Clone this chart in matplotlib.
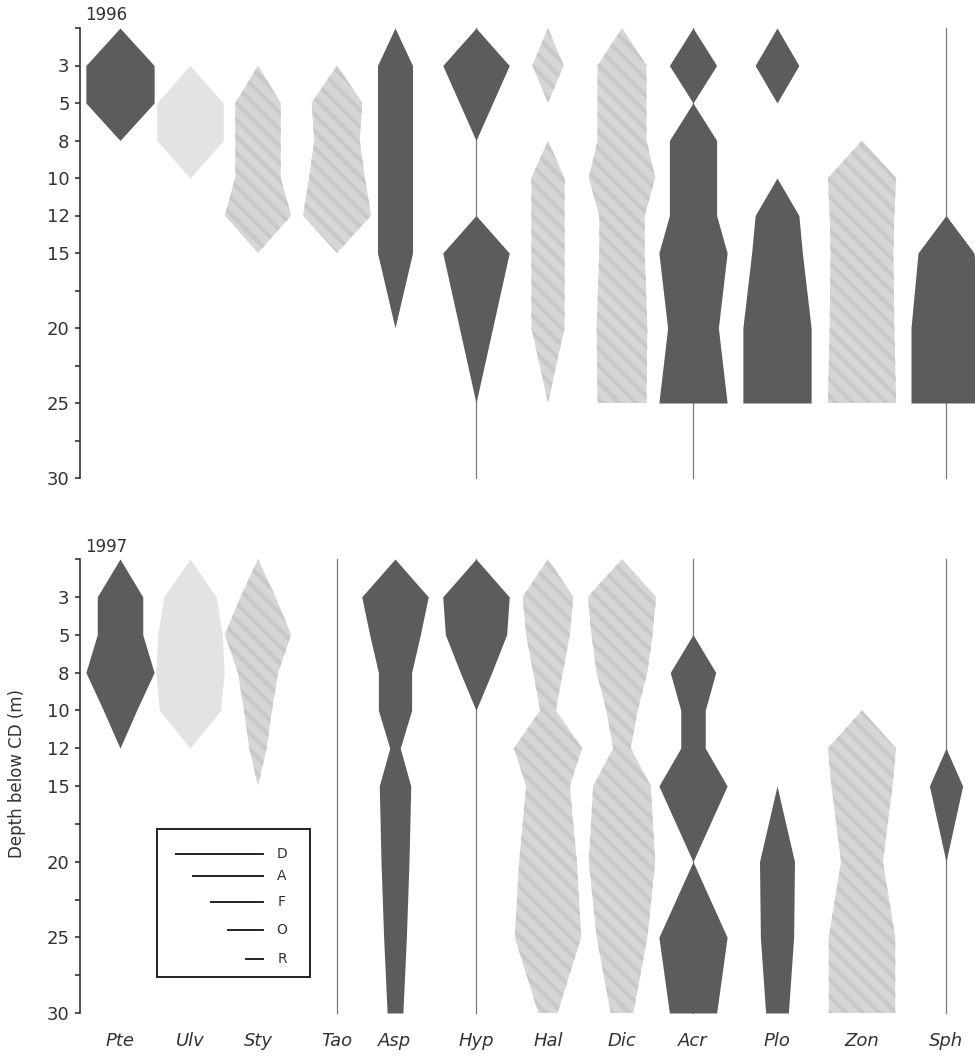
import numpy as np
import matplotlib
matplotlib.use('Agg')
import matplotlib.pyplot as plt
from matplotlib.patches import Rectangle

# species codes and algal group (sets the kite shading)
species = ['Pte', 'Ulv', 'Sty', 'Tao', 'Asp', 'Hyp', 'Hal', 'Dic', 'Acr', 'Plo', 'Zon', 'Sph']
group = ['red', 'green', 'brown', 'brown', 'red', 'red', 'brown', 'brown', 'red', 'red', 'brown', 'red']

depth_ticks = [3, 5, 8, 10, 12, 15, 20, 25, 30]
depths_1996 = [0, 3, 5, 8, 10, 12, 15, 20, 25]
depths_1997 = [0, 3, 5, 8, 10, 12, 15, 20, 25, 30]

abund_1996 = [
    [0, 3.9, 3.9, 0, 0, 0, 0, 0, 0],          # Pte
    [0, 0, 3.8, 3.8, 0, 0, 0, 0, 0],          # Ulv
    [0, 0, 2.6, 2.6, 2.6, 3.8, 0, 0, 0],      # Sty
    [0, 0, 2.9, 2.6, 3.2, 3.9, 0, 0, 0],      # Tao
    [0, 2.0, 2.0, 2.0, 2.0, 2.0, 2.0, 0, 0],  # Asp
    [0, 3.8, 1.9, 0, 0, 0, 3.8, 1.9, 0],      # Hyp
    [0, 1.8, 0, 0, 1.9, 1.9, 1.9, 1.9, 0],    # Hal
    [0, 2.8, 2.8, 2.8, 3.8, 2.6, 2.6, 2.9, 2.8],  # Dic
    [0, 2.7, 0, 2.7, 2.7, 2.7, 3.9, 2.9, 3.9],    # Acr
    [0, 2.5, 0, 0, 0, 2.5, 2.9, 3.9, 3.9],        # Plo
    [0, 0, 0, 0, 3.9, 3.7, 3.6, 3.7, 3.9],        # Zon
    [0, 0, 0, 0, 0, 0, 3.2, 4.0, 4.0],            # Sph
]
abund_1997 = [
    [0, 2.6, 2.6, 3.9, 1.9, 0, 0, 0, 0, 0],           # Pte
    [0, 3.0, 3.7, 3.9, 3.5, 0, 0, 0, 0, 0],           # Ulv
    [0, 2.0, 3.8, 2.3, 1.6, 1.0, 0, 0, 0, 0],         # Sty
    [0, 0, 0, 0, 0, 0, 0, 0, 0, 0],                   # Tao
    [0, 3.8, 2.9, 1.9, 1.9, 0.6, 1.8, 1.6, 1.3, 0.9], # Asp
    [0, 3.8, 3.5, 1.8, 0, 0, 0, 0, 0, 0],             # Hyp
    [0, 2.9, 2.5, 1.7, 0.9, 3.9, 2.5, 3.3, 3.8, 1.1], # Hal
    [0, 3.9, 3.5, 2.9, 1.8, 1.0, 3.3, 3.8, 2.9, 1.3], # Dic
    [0, 0, 0, 2.6, 1.4, 1.4, 3.9, 0, 3.9, 2.7],       # Acr
    [0, 0, 0, 0, 0, 0, 0, 2.0, 1.9, 1.3],             # Plo
    [0, 0, 0, 0, 0, 3.9, 3.5, 2.4, 3.8, 3.8],         # Zon
    [0, 0, 0, 0, 0, 0, 1.9, 0, 0, 0],                 # Sph
]
# species drawn with a thin "recorded" line down the whole profile
lines_1996 = ['Hyp', 'Acr', 'Sph']
lines_1997 = ['Tao', 'Hyp', 'Acr', 'Sph']

dafor = ['D', 'A', 'F', 'O', 'R']
dafor_val = [5, 4, 3, 2, 1]

# ---- layout (pixels) ----
W, H = 975, 1057
col_x = [120, 190, 258, 337, 395, 476, 548, 622, 693, 777, 862, 946]
UNIT = 17.5  # px per DAFOR class

styles = {
    'red':   dict(facecolor='#5c5c5c', edgecolor='#5c5c5c', hatch=None),
    'brown': dict(facecolor='#d6d6d6', edgecolor='#c8c8c8', hatch='\\\\'),
    'green': dict(facecolor='#e3e3e3', edgecolor='#e3e3e3', hatch=None),
}

plt.rcParams['hatch.linewidth'] = 3.0


def depth_pos(d):
    # axis is stretched: equal steps for 0-15 m samples, 2.5 m steps below
    return np.interp(d, [0, 3, 5, 8, 10, 12, 15, 30], [0, 1, 2, 3, 4, 5, 6, 12])


def draw_panel(ax, depths, abund, lines):
    y = depth_pos(np.array(depths, dtype=float))
    for i, name in enumerate(species):
        x = col_x[i]
        if name in lines:
            ax.plot([x, x], [0, 12], color='#7a7a7a', lw=0.9, zorder=1, clip_on=False)
        w = np.array(abund[i]) * UNIT
        if w.max() == 0:
            continue
        st = styles[group[i]]
        ax.fill_betweenx(y, x - w / 2, x + w / 2, facecolor=st['facecolor'],
                         edgecolor=st['edgecolor'], hatch=st['hatch'],
                         linewidth=0, zorder=2)
    ax.set_xlim(80, W)
    ax.set_ylim(12, 0)
    for s in ['top', 'right', 'bottom']:
        ax.spines[s].set_visible(False)
    ax.spines['left'].set_linewidth(1.2)
    ax.spines['left'].set_color('#333333')
    pos = np.arange(13)
    lab = [''] * 13
    for d in depth_ticks:
        lab[int(round(depth_pos(d)))] = str(d)
    ax.set_yticks(pos)
    ax.set_yticklabels(lab)
    ax.tick_params(axis='y', direction='out', length=3.5, width=1.2,
                   color='#333333', labelsize=13, labelcolor='#333333', pad=4)
    ax.patch.set_alpha(0)


fig = plt.figure(figsize=(W / 100, H / 100), dpi=100)

ax1 = fig.add_axes([80 / W, 1 - 478 / H, (W - 80) / W, 450 / H])
draw_panel(ax1, depths_1996, abund_1996, lines_1996)
ax1.set_xticks([])

ax2 = fig.add_axes([80 / W, 1 - 1013 / H, (W - 80) / W, 454 / H])
draw_panel(ax2, depths_1997, abund_1997, lines_1997)
ax2.set_xticks(col_x)
ax2.set_xticklabels(species, fontstyle='italic', fontsize=13, color='#333333')
ax2.tick_params(axis='x', length=0, pad=14)

# overlay in pixel coordinates for year labels, axis title and legend
ov = fig.add_axes([0, 0, 1, 1], zorder=5)
ov.set_xlim(0, W)
ov.set_ylim(H, 0)
ov.axis('off')
ov.patch.set_alpha(0)

ov.text(106, 15, '1996', ha='center', va='center', fontsize=12, color='#333333')
ov.text(106, 547, '1997', ha='center', va='center', fontsize=12, color='#333333')
ov.text(17, 773, 'Depth below CD (m)', rotation=90, ha='center', va='center',
        fontsize=12, color='#333333')

ov.add_patch(Rectangle((157, 829), 153, 148, fill=False, lw=1.4, edgecolor='#222222'))
leg_y = [854, 876, 902, 930, 959]
for k, (lbl, v) in enumerate(zip(dafor, dafor_val)):
    ov.plot([263 - v * UNIT, 263], [leg_y[k], leg_y[k]], color='#222222', lw=1.4)
    ov.text(282, leg_y[k], lbl, ha='center', va='center', fontsize=10, color='#333333')

fig.savefig('out.png', dpi=100)
